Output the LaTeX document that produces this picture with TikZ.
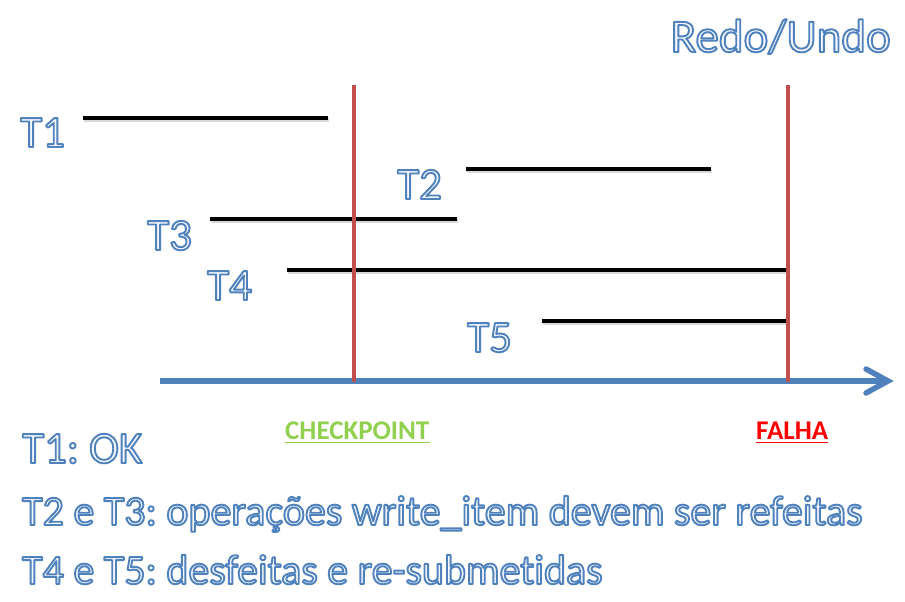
\documentclass[tikz,border=0pt]{standalone}
\usepackage{fontspec}
\setmainfont{Carlito}[Ligatures={NoCommon}]
\usetikzlibrary{arrows.meta}
\definecolor{olblue}{HTML}{4F81BD}
\definecolor{olfill}{HTML}{F4F7FC}
\definecolor{redline}{HTML}{C0504D}
\definecolor{axisblue}{HTML}{4F81BD}
\definecolor{cpgreen}{HTML}{92D050}
\definecolor{falred}{HTML}{FF0000}
\frenchspacing
% outlined text: fill light, stroke blue (PDF text render mode 2)
\newcommand\oltext[1]{%
  \textcolor{olfill}{%
    \special{pdf:literal direct 0.310 0.506 0.741 RG 1.9 w 1 j 2 Tr}%
    #1%
    \special{pdf:literal direct 0 Tr}}}
\tikzset{
  lbl/.style={inner sep=0pt, anchor=base west, font=\fontsize{45}{50}\selectfont},
  note/.style={inner sep=0pt, anchor=base west, font=\fontsize{42}{48}\selectfont},
  bar/.style={line width=3.6pt, black},
  barshadow/.style={line width=3.6pt, black!15},
  vline/.style={line width=3.4pt, redline},
  axisline/.style={line width=5.5pt, axisblue},
  tag/.style={inner sep=0pt, anchor=base west, font=\fontsize{27}{30}\selectfont\bfseries},
}
\begin{document}
\begin{tikzpicture}[x=1pt,y=-1pt]
  \fill[white] (0,0) rectangle (905,602);
  \useasboundingbox (0,0) rectangle (905,602);

  % title
  \node[inner sep=0pt, anchor=base east, font=\fontsize{47}{52}\selectfont] (title) at (891,52) {\oltext{Redo/Undo}};

  % transaction labels
  \node[lbl] (t1) at (20,147) {\oltext{T1}};
  \node[lbl] (t2) at (397,199) {\oltext{T2}};
  \node[lbl] (t3) at (147,250) {\oltext{T3}};
  \node[lbl] (t4) at (207,300) {\oltext{T4}};
  \node[lbl] (t5) at (467,352) {\oltext{T5}};

  % bar endpoints
  \coordinate (b1s) at (83,118);  \coordinate (b1e) at (328,118);
  \coordinate (b2s) at (466,169); \coordinate (b2e) at (711,169);
  \coordinate (b3s) at (210,219); \coordinate (b3e) at (457,219);
  \coordinate (b4s) at (287,270); \coordinate (b4e) at (788,270);
  \coordinate (b5s) at (542,321); \coordinate (b5e) at (788,321);

  \foreach \b in {1,...,5}{
    \draw[barshadow] ([shift={(1,2)}]b\b s) -- ([shift={(1,2)}]b\b e);
    \draw[bar] (b\b s) -- (b\b e);
  }

  % axis
  \coordinate (ax0) at (160,381);
  \coordinate (ax1) at (886,381);
  \coordinate (ahu) at (866,369);
  \coordinate (ahd) at (866,393);
  \draw[axisline] (ax0) -- (ax1);
  \draw[axisline, line cap=round, miter limit=10] (ahu) -- (888,381) -- (ahd);

  % checkpoint and failure lines
  \coordinate (cpt) at (354,85); \coordinate (cpb) at (354,382);
  \coordinate (fat) at (788,85); \coordinate (fab) at (788,382);
  \draw[vline] (cpt) -- (cpb);
  \draw[vline] (fat) -- (fab);

  % tags
  \node[tag, text=cpgreen] (cp) at (285,439) {CHECKPOINT};
  \draw[cpgreen, line width=1.6pt] ([yshift=-3.5]cp.base west) -- ([yshift=-3.5]cp.base east);
  \node[tag, text=falred] (fa) at (756,439) {FALHA};
  \draw[falred, line width=1.6pt] ([yshift=-3.5]fa.base west) -- ([yshift=-3.5]fa.base east);

  % notes
  \node[note, font=\fontsize{45}{48}\selectfont] (n1) at (22,463) {\oltext{T1: OK}};
  \node[note] (n2) at (22,525) {\oltext{T2 e T3: operações write\_item devem ser refeitas}};
  \node[note] (n3) at (22,584) {\oltext{T4 e T5: desfeitas e re-submetidas}};
\end{tikzpicture}
\end{document}
